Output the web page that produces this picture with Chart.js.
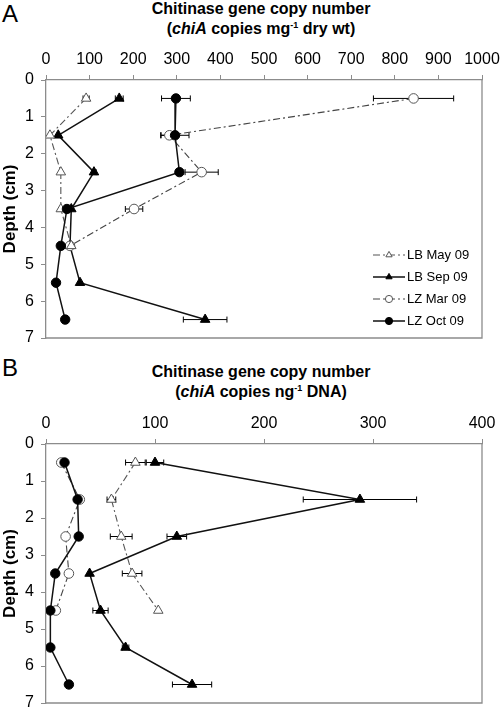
<!DOCTYPE html>
<html>
<head>
<meta charset="utf-8">
<script src="https://cdn.jsdelivr.net/npm/chart.js@4.4.1/dist/chart.umd.min.js"></script>
<style>
  body {
    margin: 0;
    width: 500px;
    height: 710px;
    position: relative;
    overflow: hidden;
    background: #fff;
    font-family: "Liberation Sans", Arial, sans-serif;
  }
  canvas { position: absolute; left: 0; }
  #chartA { top: 0; }
  #chartB { top: 350px; }
  .panel {
    position: absolute;
    left: 2px;
    font-size: 24px;
    line-height: 24px;
  }
  .title {
    position: absolute;
    left: 0;
    width: 522px;
    text-align: center;
    font-weight: bold;
    font-size: 16px;
    line-height: 19.5px;
  }
  .title sup {
    font-size: 9px;
    vertical-align: 0;
    position: relative;
    top: -6px;
  }
</style>
</head>
<body>
<div class="panel" style="top:2px">A</div>
<div class="title" style="top:-1px">Chitinase gene copy number<br>(<i>chiA</i> copies mg<sup>-1</sup> dry wt)</div>
<canvas id="chartA" width="500" height="350"></canvas>

<div class="panel" style="top:356px">B</div>
<div class="title" style="top:362px">Chitinase gene copy number<br>(<i>chiA</i> copies ng<sup>-1</sup> DNA)</div>
<canvas id="chartB" width="500" height="360"></canvas>

<script>
const FONT = '"Liberation Sans", Arial, sans-serif';
const AXIS_GREY = "#8c8c8c";

// depth categories (cm)
const depthsFull = [0.5, 1.5, 2.5, 3.5, 4.5, 5.5, 6.5];
const depthsTop = [0.5, 1.5, 2.5, 3.5, 4.5];
const depthTicks = [0, 1, 2, 3, 4, 5, 6, 7];

const seriesNames = ["LB May 09", "LB Sep 09", "LZ Mar 09", "LZ Oct 09"];

// panel A: chiA copies mg-1 dry wt
const xTicksA = [0, 100, 200, 300, 400, 500, 600, 700, 800, 900, 1000];
const lbMayA = [92, 9, 34, 34, 58];
const lbMayAErr = [7, 0, 0, 0, 0];
const lbSepA = [168, 28, 110, 58, 55, 78, 365];
const lbSepAErr = [9, 0, 5, 0, 0, 0, 50];
const lzMarA = [843, 283, 357, 202, 55];
const lzMarAErr = [92, 20, 38, 20, 0];
const lzOctA = [298, 296, 306, 48, 34, 23, 44];
const lzOctAErr = [33, 32, 0, 0, 0, 0, 0];

// panel B: chiA copies ng-1 DNA
const xTicksB = [0, 100, 200, 300, 400];
const lbMayB = [82, 60, 69, 79, 103];
const lbMayBErr = [9, 4, 10, 9, 0];
const lbSepB = [100, 288, 120, 40, 50, 73, 134];
const lbSepBErr = [8, 52, 9, 0, 7, 3, 18];
const lzMarB = [14, 31, 18, 21, 9];
const lzMarBErr = [0, 0, 0, 0, 0];
const lzOctB = [17, 29, 30, 8.5, 4, 4, 21];
const lzOctBErr = [0, 0, 0, 0, 0, 0, 0];

// look of each series, same order as seriesNames
const seriesStyles = [
  { pointStyle: "triangle", fill: "#fff", stroke: "#555", line: "#555", dash: [7, 3, 2, 3], radius: 5.5, width: 1.1, order: 1 },
  { pointStyle: "triangle", fill: "#000", stroke: "#000", line: "#111", dash: [], radius: 5.5, width: 1.5, order: 3 },
  { pointStyle: "circle", fill: "#fff", stroke: "#555", line: "#444", dash: [7, 3, 2, 3], radius: 4.8, width: 1.1, order: 2 },
  { pointStyle: "circle", fill: "#000", stroke: "#000", line: "#111", dash: [], radius: 4.7, width: 1.5, order: 0 },
];

function points(depths, values, errors) {
  return values.map((v, i) => ({ x: v, y: depths[i], err: errors[i] || 0 }));
}

function makeDataset(i, data) {
  const s = seriesStyles[i];
  return {
    label: seriesNames[i],
    data,
    showLine: true,
    borderColor: s.line,
    borderWidth: s.width,
    borderDash: s.dash,
    pointStyle: s.pointStyle,
    pointRadius: s.radius,
    pointHoverRadius: s.radius,
    pointBackgroundColor: s.fill,
    pointBorderColor: s.stroke,
    pointBorderWidth: 1,
    order: s.order,
  };
}

const errorBars = {
  id: "errorBars",
  beforeDatasetsDraw(chart) {
    const ctx = chart.ctx;
    const xs = chart.scales.x;
    ctx.save();
    ctx.strokeStyle = "#000";
    ctx.lineWidth = 1;
    chart.data.datasets.forEach((ds, i) => {
      const meta = chart.getDatasetMeta(i);
      ds.data.forEach((pt, j) => {
        if (!pt.err) return;
        const y = meta.data[j].y;
        const l = xs.getPixelForValue(pt.x - pt.err);
        const r = xs.getPixelForValue(pt.x + pt.err);
        ctx.beginPath();
        ctx.moveTo(l, y);
        ctx.lineTo(r, y);
        ctx.moveTo(l, y - 3);
        ctx.lineTo(l, y + 3);
        ctx.moveTo(r, y - 3);
        ctx.lineTo(r, y + 3);
        ctx.stroke();
      });
    });
    ctx.restore();
  },
};

const plotFrame = {
  id: "plotFrame",
  afterDraw(chart) {
    const { left, right, top, bottom } = chart.chartArea;
    const ctx = chart.ctx;
    ctx.save();
    ctx.strokeStyle = AXIS_GREY;
    ctx.lineWidth = 1.3;
    ctx.beginPath();
    ctx.moveTo(left, bottom);
    ctx.lineTo(right, bottom);
    ctx.lineTo(right, top);
    ctx.stroke();
    ctx.restore();
  },
};

const depthLegend = {
  id: "depthLegend",
  afterDraw(chart, args, opts) {
    if (!opts.show) return;
    const ctx = chart.ctx;
    const area = chart.chartArea;
    chart.data.datasets.forEach((ds, i) => {
      const y = area.bottom - 83 + i * 22;
      const x0 = area.right - 109;
      ctx.save();
      ctx.strokeStyle = ds.borderColor;
      ctx.lineWidth = ds.borderWidth;
      ctx.setLineDash(ds.borderDash || []);
      ctx.beginPath();
      ctx.moveTo(x0, y);
      ctx.lineTo(x0 + 32, y);
      ctx.stroke();
      ctx.setLineDash([]);
      ctx.fillStyle = ds.pointBackgroundColor;
      ctx.strokeStyle = ds.pointBorderColor;
      ctx.lineWidth = 1;
      Chart.helpers.drawPoint(ctx, { pointStyle: ds.pointStyle, radius: 3.6, borderWidth: 1, rotation: 0 }, x0 + 16, y);
      ctx.fillStyle = "#000";
      ctx.font = "13px " + FONT;
      ctx.textBaseline = "middle";
      ctx.textAlign = "left";
      ctx.fillText(ds.label, x0 + 34, y);
      ctx.restore();
    });
  },
};

function makeDepthChart(canvasId, datasets, xTicks, padTop, padBottom, showLegend) {
  return new Chart(document.getElementById(canvasId), {
    type: "scatter",
    data: { datasets },
    options: {
      responsive: false,
      animation: false,
      devicePixelRatio: 1,
      layout: { padding: { top: padTop, right: 18, bottom: padBottom, left: 0 } },
      plugins: {
        legend: { display: false },
        tooltip: { enabled: false },
        depthLegend: { show: showLegend },
      },
      scales: {
        x: {
          type: "linear",
          position: "top",
          min: xTicks[0],
          max: xTicks[xTicks.length - 1],
          afterBuildTicks: (s) => { s.ticks = xTicks.map((v) => ({ value: v })); },
          afterFit: (s) => { s.height = 40; s.paddingLeft = 0; s.paddingRight = 0; },
          border: { display: true, color: AXIS_GREY, width: 1.3 },
          grid: { display: true, drawOnChartArea: false, drawTicks: true, tickLength: 5, color: AXIS_GREY },
          ticks: {
            color: "#000",
            font: { family: FONT, size: 16 },
            padding: 6,
            maxRotation: 0,
            callback: (v) => String(v),
          },
        },
        y: {
          type: "linear",
          reverse: true,
          min: 0,
          max: 7,
          afterBuildTicks: (s) => { s.ticks = depthTicks.map((v) => ({ value: v })); },
          afterFit: (s) => { s.width = 46; s.paddingTop = 0; s.paddingBottom = 0; },
          border: { display: true, color: AXIS_GREY, width: 1.3 },
          grid: { display: true, drawOnChartArea: false, drawTicks: true, tickLength: 5, color: AXIS_GREY },
          ticks: { color: "#000", font: { family: FONT, size: 16 }, padding: 7, callback: (v) => String(v) },
          title: {
            display: true,
            text: "Depth (cm)",
            color: "#000",
            font: { family: FONT, size: 17, weight: "bold" },
            padding: 0,
          },
        },
      },
    },
    plugins: [errorBars, plotFrame, depthLegend],
  });
}

makeDepthChart("chartA", [
  makeDataset(0, points(depthsTop, lbMayA, lbMayAErr)),
  makeDataset(1, points(depthsFull, lbSepA, lbSepAErr)),
  makeDataset(2, points(depthsTop, lzMarA, lzMarAErr)),
  makeDataset(3, points(depthsFull, lzOctA, lzOctAErr)),
], xTicksA, 40, 12, true);

makeDepthChart("chartB", [
  makeDataset(0, points(depthsTop, lbMayB, lbMayBErr)),
  makeDataset(1, points(depthsFull, lbSepB, lbSepBErr)),
  makeDataset(2, points(depthsTop, lzMarB, lzMarBErr)),
  makeDataset(3, points(depthsFull, lzOctB, lzOctBErr)),
], xTicksB, 54, 7, false);
</script>
</body>
</html>
